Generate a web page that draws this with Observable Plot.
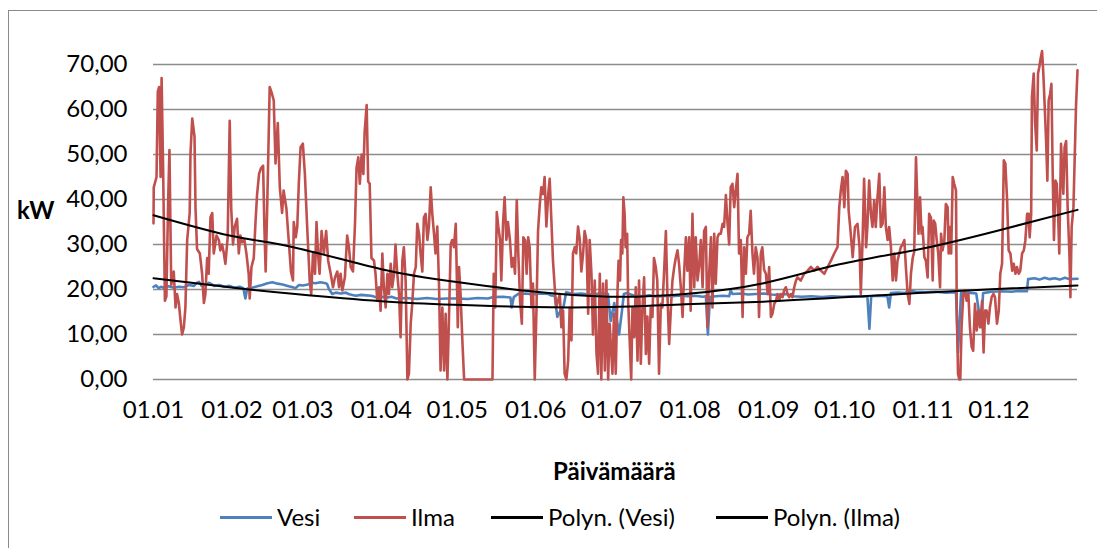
<!DOCTYPE html>
<html>
<head>
<meta charset="utf-8">
<script src="https://cdn.jsdelivr.net/npm/d3@7"></script>
<script src="https://cdn.jsdelivr.net/npm/@observablehq/plot@0.6"></script>
<style>
  html, body { margin: 0; padding: 0; background: #fff; overflow: hidden; }
  body { width: 1097px; height: 548px; position: relative; font-family: Lato, "Open Sans", sans-serif; color: #000; }
  #frame { position: absolute; left: 8px; top: 10px; width: 1100px; height: 560px; border: 1.5px solid #8a8a8a; box-sizing: border-box; }
  #chart { position: absolute; left: 0; top: 0; }
  .lbl { position: absolute; font-size: 24px; white-space: nowrap; line-height: 1; }
  .bold { font-weight: bold; }
  .legline { position: absolute; height: 3px; width: 52px; }
</style>
</head>
<body>
<div id="frame"></div>
<div id="chart"></div>
<div class="lbl bold" id="ylab" style="left:17px; top:198px;">kW</div>
<div class="lbl bold" id="xlab" style="left:553px; top:459px;">Päivämäärä</div>
<div id="legend"></div>
<script>
// ---- Data (day of year from 01.01, kW) ----
const monthTicks = [0, 31, 59, 90, 120, 151, 181, 212, 243, 273, 304, 334];
const monthLabels = ["01.01","01.02","01.03","01.04","01.05","01.06","01.07","01.08","01.09","01.10","01.11","01.12"];
const yTicks = [0, 10, 20, 30, 40, 50, 60, 70];

const vesi = [[0,20.6],[1,20.9],[2,20.3],[3,20.6],[4,20.4],[6,20.7],[8,20.4],[10,20.6],[12,20.5],[14,21],[16,20.8],[17,21.4],[18,21.7],[19,20.8],[21,21.2],[22,21.5],[24,20.8],[26,21],[28,20.6],[30,20.8],[32,20.4],[34,20.6],[35.5,20.3],[36.3,18],[37,20.2],[39,20.4],[41,20.7],[43,21],[45,21.4],[47,21.6],[49,21.3],[51,21.1],[53,20.8],[55,20.5],[56,20.3],[57.5,21],[59,20.9],[61,21.1],[62.7,21.5],[64,21.4],[66,21.6],[68,21.4],[68.6,21.2],[69.3,20.1],[70.6,19],[72,19.3],[74,19.1],[76,19.3],[77,19],[78.5,18.8],[80,18.6],[82,18.8],[84,18.7],[86,18.6],[88,18.3],[90,18.4],[92,18.2],[94,18.4],[96,18],[100,18.1],[104,17.9],[108,18.1],[112,17.9],[116,18],[120,18],[124,17.9],[128,18.1],[132,18],[134,18.3],[138,18.4],[141,18.2],[141.5,16],[142.3,18.3],[144,19],[147,19.1],[150,18.9],[153,19.1],[156,19],[157,18.7],[158.5,18.6],[159.5,13.9],[160.5,15],[162,16.2],[163,19.4],[166,19],[169,19.1],[172,18.9],[175,19],[177,19.2],[179.5,19],[180.6,13],[182,17],[183.9,10],[185,15],[185.8,19],[187,19.2],[190,18.6],[193,18.5],[196,18.7],[199,18.4],[202,18.6],[205,18.5],[208,18.7],[211,18.5],[214,18.6],[217,18.4],[218.2,18.5],[219,10],[219.8,18.3],[222,18.5],[225,18.6],[227.4,18.5],[228,19.8],[228.7,19],[232,19.1],[235,18.9],[238,19],[241,19.1],[244,18.9],[247,18.8],[250,19],[252.4,18.5],[256,18.4],[260,18.5],[264,18.3],[268,18.5],[272,18.4],[276,18.5],[280,18.4],[282,18.5],[282.8,11.3],[283.5,18.5],[286,18.6],[289.9,18.5],[290.6,16],[291.3,19.2],[294,19.3],[297,19.2],[298,19.8],[301,19.5],[305,19.4],[309,19.5],[313,19.3],[317,19.4],[317.8,6],[319,19.2],[322,19.3],[325,19.1],[327,11.6],[327.7,19.2],[331,19.5],[335,19.6],[339,19.5],[342,19.7],[345,19.6],[345.5,22.3],[348,22.5],[350,22.2],[352,22.6],[354,22.3],[356,22.5],[358,22.2],[360,22.6],[362,22.3],[365,22.4]];

const ilma = [[0,34.7],[0.1,42.7],[1.2,45],[1.7,64],[2.2,65],[2.8,45],[3.2,67],[3.8,47],[4.5,17.5],[5.1,18.5],[5.8,40],[6.3,51],[7,21],[8,24],[8.7,16],[9.3,19],[10,17],[10.7,13],[11.3,10],[12,11.6],[12.6,16],[13.3,31],[14.3,37],[14.6,50],[15.3,58],[16.2,54],[16.6,38],[17.2,29],[18.3,28],[19.2,23.5],[19.9,17],[20.5,19],[21.2,27],[21.8,23.5],[22.5,36],[23.2,37],[23.8,28],[24.9,32],[25.8,31],[26.4,28.7],[27.1,30],[27.8,28],[28.4,25.7],[29.3,31.6],[30.1,57.5],[30.7,38],[31.4,30],[32.1,34],[33,35.7],[33.7,28],[34.3,32],[35,30.5],[35.9,31],[36.7,28],[37.6,23.5],[38,18],[38.7,25],[39.6,27],[40.3,35],[40.9,41],[41.7,45.7],[42.5,47],[43.3,47.5],[43.8,34],[44.3,24],[44.9,38],[45.9,65],[46.8,63.5],[47.5,62],[48.2,48],[49.1,57],[49.9,42.7],[50.8,37],[51.4,42],[52.5,38],[53.4,31],[54.3,24],[55.1,22],[55.4,35],[56.2,31.6],[56.8,34],[57.4,43.5],[58.1,51.6],[59,52.4],[59.8,45.7],[60.7,34],[61.7,22],[62.3,19],[63,28],[63.8,23.5],[64.4,35],[65.1,27],[65.6,23.5],[66.4,33],[67.3,28],[68.2,33],[69,26.4],[70,23.5],[70.9,20.5],[71.7,22.7],[72.6,24],[73.3,20.5],[73.9,23.5],[74.6,19.8],[75.6,22.7],[76.5,32],[77.2,29.4],[77.9,25],[78.8,24],[79.6,34.6],[80.2,47],[80.9,49.4],[81.5,43.5],[82.2,50],[82.9,45.7],[83.4,55],[84.2,61],[84.8,44],[85.4,43.5],[86.1,27],[87.1,26.4],[87.7,23.5],[88.4,17.5],[89.1,20.5],[89.7,15.3],[90.4,28],[91,20.5],[91.7,16],[92.4,23.5],[93,19],[93.7,25.7],[94.3,20.5],[95,23.5],[95.6,30],[96.3,23.5],[97,19],[97.6,9.4],[98.3,26.4],[98.9,29.4],[99.6,22],[100.3,0],[100.9,1.3],[101.6,12.4],[102.2,16.8],[102.9,23.5],[103.6,25],[104.2,34.6],[104.9,32.4],[105.5,28],[106.2,24],[106.8,36],[107.5,36.8],[108.2,31],[108.8,34],[109.5,42.7],[110.1,37],[110.8,32.4],[111.4,28],[112.1,34],[112.8,20.5],[113.4,2],[114.1,16],[114.8,2],[115.4,14.6],[116.1,0],[116.7,13],[117.4,30],[118,31],[118.7,29.4],[119.4,34.6],[119.8,23.5],[120.2,11.6],[120.7,25],[121.3,19],[122,8.7],[122.7,0],[133.9,0],[134.4,23.5],[135,16],[135.6,37.2],[136.2,34],[136.9,31],[137.4,22],[138.1,35],[138.7,40.5],[139.4,31],[140,35],[140.8,31],[141.5,25],[142.2,27],[142.8,23.5],[143.5,39.8],[144.1,28],[144.8,17.5],[145.5,12.4],[146.1,31.6],[146.8,30.9],[147.4,23.5],[148,31.6],[148.6,29.4],[149.3,16],[149.9,21.3],[150.6,0],[151.3,16],[151.9,33],[152.6,39],[153.2,42.7],[153.9,41.2],[154.5,45],[155.2,34],[155.9,41],[156.5,44.6],[157.2,35],[157.8,26.4],[158.5,20.5],[159.1,16],[159.8,17.5],[160.5,19],[161.1,11.6],[161.8,15.3],[162.4,1.3],[163.1,0],[163.8,4.2],[164.4,16],[165.1,8.7],[165.7,28],[166.4,29.4],[167,28],[167.7,34],[168.4,31],[169,24],[169.7,28],[170.3,33],[171,31],[171.7,14.6],[172.3,31],[173,23.5],[173.6,10],[174.3,22],[175,5.7],[175.6,1.3],[176.3,23.5],[176.9,0],[177.6,21.3],[178.3,2],[178.9,22],[179.6,0],[180.2,12.4],[181.3,1.3],[181.9,14.6],[182.6,1.3],[183.3,19.8],[183.7,26.4],[184.3,22],[184.7,31],[185.2,28],[185.6,40.5],[186.1,36.8],[186.5,29.4],[187.1,32.4],[187.5,17.5],[188.1,8.7],[188.7,0],[189.2,16],[189.9,9.4],[190.5,20.5],[191.2,4.2],[191.8,22],[192.5,3.5],[193.1,15.3],[193.8,22.7],[194.5,5.7],[195.1,14],[195.8,3.5],[196.4,16],[197.1,13.9],[197.7,27],[198.4,25],[199,22],[199.7,1.3],[200.4,16.8],[201,16],[201.7,24],[202.4,33],[203,19],[203.7,7.9],[204.4,16],[205,22],[205.7,25],[206.3,27],[207,28.7],[207.6,25.7],[208.3,20.5],[209,13.9],[209.6,23.5],[210.3,31.6],[210.9,24.2],[211.6,31.6],[212.2,15.3],[212.9,36.8],[213.6,20.5],[214.2,31.6],[214.9,22],[215.5,25],[216.2,31],[216.9,20.5],[217.5,33],[218.2,33.9],[218.8,11.6],[219.5,23.5],[220.2,31.6],[220.8,16],[221.5,32.4],[222.1,21.3],[222.8,31.6],[223.4,32.4],[224.1,32.4],[224.8,34.6],[225.4,33.9],[226.1,41],[226.7,35.3],[227.4,30],[228,42.7],[228.7,43.5],[229.4,38.3],[230,42],[230.7,45.7],[231.3,28],[232,31],[232.7,13.9],[233.3,29.4],[234,23.5],[234.6,31.6],[235.3,32.4],[235.9,37.5],[236.6,28],[237.2,23.5],[237.9,29.4],[238.6,27],[239.2,13.9],[239.9,28],[240.5,29.4],[241.2,24.4],[241.9,23.5],[242.6,19],[243.2,25],[243.9,13.9],[244.5,14.6],[245.2,16.8],[245.9,17.5],[246.5,19],[247.2,17.5],[247.8,19],[248.5,18.3],[249.1,19.8],[249.8,20.5],[250.5,19],[251.1,18.3],[251.8,19],[252.4,18.3],[253.1,20.5],[253.8,22],[254.4,22.7],[255.7,22],[257,23.5],[258.4,24.2],[259.7,25],[261,24.2],[262.3,25],[263.6,24.2],[265,23.5],[266.3,25],[267.6,26.4],[268.9,28],[270.2,29.4],[270.9,38.3],[271.5,42],[272.2,45],[272.9,38.3],[273.5,46.4],[274.2,45.7],[274.6,37.5],[275.2,33.9],[276.2,27.2],[277.1,33.9],[278.1,34.6],[278.9,29.4],[279.4,19],[280.1,30.9],[280.7,44.6],[281.5,29.4],[282,33.9],[282.7,44.2],[283.4,36.8],[284,33.9],[284.7,39.8],[285.3,33.9],[286,40.5],[286.7,45.7],[287.3,33.9],[288,34.6],[288.7,42.7],[289.3,33.9],[290,31],[290.6,33.9],[291.3,29.4],[292,22],[292.6,28],[293.3,22],[293.9,26.4],[294.6,28],[295.2,29.4],[295.9,30],[296.6,31],[297.2,25],[297.9,19],[298.6,16.8],[299.2,23.5],[299.9,27],[300.5,28.4],[301.2,49.4],[301.8,38.3],[302.2,32.4],[302.8,40.5],[303.4,32.4],[303.8,33.9],[304.5,27.2],[305.1,26.4],[305.8,22.7],[306.4,36.8],[307.1,36],[307.8,22],[308.2,35.3],[308.8,34.6],[309.4,30.9],[310,28],[310.7,20.5],[311.1,32.4],[311.7,28.7],[312.4,30.9],[313,39],[313.7,38.3],[314.1,28],[314.6,33.9],[315.1,28],[315.7,45],[316.3,43.5],[317,42],[317.3,16],[317.8,1.3],[318.3,0],[318.7,0],[319.2,11.6],[319.9,19],[320.5,19.8],[321.2,17.5],[321.9,19],[322.5,11.6],[323.2,7.2],[323.8,6.4],[324.5,16.8],[325.2,10.9],[325.8,15.3],[326.5,11.6],[327.3,17.5],[327.9,6],[328.5,15.3],[329.1,15.3],[329.8,12.4],[330.4,16],[331.1,18.3],[331.8,19],[332.4,18.3],[333.2,12.4],[333.9,15.3],[334.5,23.5],[335.2,25.7],[335.9,48.7],[336.5,48],[337.2,39.8],[337.8,28.7],[338.5,28],[339.2,24.2],[339.8,25.7],[340.5,23.5],[341.1,25],[341.8,23.5],[342.4,24.2],[343.1,28],[343.8,28.7],[344.4,30.9],[345.1,36.8],[345.7,36.8],[346.1,31.6],[346.7,36.8],[347,62.7],[347.7,68],[348.2,57.6],[348.9,50.9],[349.4,68],[349.9,69.4],[350.3,70.9],[351,73],[351.5,68],[352,61.3],[352.6,53],[353.1,44.2],[353.6,62],[354.2,63.5],[354.7,65.7],[355.2,45.7],[355.7,31],[356.3,44.2],[356.8,43.5],[357.3,37.5],[357.8,28],[358.5,52.4],[358.9,47],[359.4,41.3],[359.9,51.6],[360.5,53],[361.1,38.3],[361.8,28],[362.2,18.3],[362.7,33.9],[363.4,38.3],[363.9,49.4],[364.4,60.5],[365,68.7]];

// Polynomial trendlines (day, kW)
const vesiTrend = [[0,22.5],[30,20.5],[56,19],[90,17.4],[119,16.6],[149,16.1],[180,16.1],[210,16.7],[241,17.3],[271,18.2],[302,19.2],[333,20.1],[365,20.9]];
const ilmaTrend = [[0,36.5],[30,32],[56,29.3],[90,24.5],[119,21.7],[149,19.6],[180,18.4],[210,19],[241,21.4],[271,25.6],[302,28.9],[333,33],[365,37.7]];

const legendItems = [
  {label: "Vesi", color: "#4F81BD", left: 220},
  {label: "Ilma", color: "#C0504D", left: 354},
  {label: "Polyn. (Vesi)", color: "#000000", left: 491},
  {label: "Polyn. (Ilma)", color: "#000000", left: 716}
];

const fmtY = d => d.toFixed(2).replace(".", ",");
const fmtX = d => monthLabels[monthTicks.indexOf(d)];

const chart = Plot.plot({
  width: 1097,
  height: 440,
  marginLeft: 153,
  marginRight: 20,
  marginTop: 64,
  marginBottom: 61,
  style: {fontFamily: "Lato, 'Open Sans', sans-serif", fontSize: "24px", color: "#000", background: "transparent", overflow: "visible"},
  x: {domain: [0, 365]},
  y: {domain: [0, 70]},
  marks: [
    Plot.gridY(yTicks, {stroke: "#8c8c8c", strokeOpacity: 1, strokeWidth: 1.6}),
    Plot.axisY(yTicks, {tickSize: 0, tickPadding: 26, tickFormat: fmtY, label: null, fill: "#000"}),
    Plot.axisX(monthTicks, {tickSize: 0, tickPadding: 21, tickFormat: fmtX, label: null, fill: "#000"}),
    Plot.line(vesi, {x: d => d[0], y: d => d[1], stroke: "#4F81BD", strokeWidth: 2.6, strokeLinejoin: "round"}),
    Plot.line(ilma, {x: d => d[0], y: d => d[1], stroke: "#C0504D", strokeWidth: 2.6, strokeLinejoin: "round"}),
    Plot.line(vesiTrend, {x: d => d[0], y: d => d[1], stroke: "#000", strokeWidth: 2, curve: "natural"}),
    Plot.line(ilmaTrend, {x: d => d[0], y: d => d[1], stroke: "#000", strokeWidth: 2, curve: "natural"})
  ]
});
document.getElementById("chart").appendChild(chart);

const leg = document.getElementById("legend");
for (const it of legendItems) {
  const line = document.createElement("div");
  line.className = "legline";
  line.style.left = it.left + "px";
  line.style.top = "516px";
  line.style.background = it.color;
  leg.appendChild(line);
  const t = document.createElement("div");
  t.className = "lbl";
  t.style.left = (it.left + 57) + "px";
  t.style.top = "505px";
  t.textContent = it.label;
  leg.appendChild(t);
}
</script>
</body>
</html>
